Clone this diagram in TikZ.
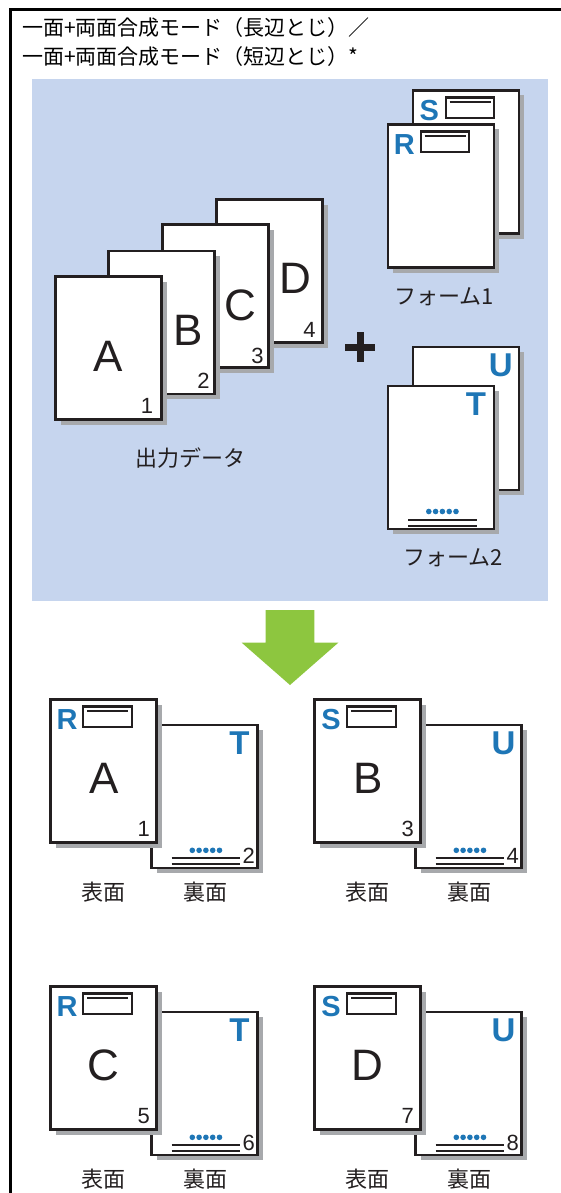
\documentclass[tikz,border=0pt]{standalone}
\usepackage{fontspec}
\setmainfont{Liberation Sans}
\newfontfamily\jpfont{Noto Sans CJK JP}
\usetikzlibrary{shadows}
\definecolor{panel}{HTML}{C6D5EE}
\definecolor{ink}{HTML}{231F20}
\definecolor{markblue}{HTML}{1E76B6}
\definecolor{shade}{HTML}{A7A9AC}
\definecolor{arrowgreen}{HTML}{8DC63F}
\tikzset{
 pagebox/.style={anchor=north west, draw=ink, line width=2.2pt, fill=white, minimum width=106pt, minimum height=143pt, inner sep=0pt, outer sep=0pt, drop shadow={shadow xshift=5pt, shadow yshift=-5pt, fill=shade, opacity=1}},
 bigletter/.style={inner sep=0pt, font=\fontsize{44}{44}\selectfont, text=ink},
 pagenum/.style={inner sep=0pt, font=\fontsize{22}{22}\selectfont, text=ink},
 markR/.style={inner sep=0pt, font=\bfseries\fontsize{29}{29}\selectfont, text=markblue},
 markT/.style={inner sep=0pt, font=\bfseries\fontsize{33}{33}\selectfont, text=markblue},
 hdrbox/.style={draw=ink, line width=2.2pt, minimum width=48.4pt, minimum height=20.5pt, inner sep=0pt, fill=white},
 rule/.style={draw=ink, line width=2pt},
 jplabel/.style={inner sep=0pt, font=\jpfont\fontsize{22}{22}\selectfont, text=ink},
 jptitle/.style={inner sep=0pt, anchor=west, font=\jpfont\fontsize{21}{21}\selectfont, text=black},
}
\newcommand{\mkpage}[3]{\node[pagebox] (#1) at (#2,#3) {};}
\newcommand{\pgletter}[4]{\node[bigletter] (#1-L) at ([shift={(#2,#3)}]#1.north west) {#4};}
\newcommand{\pgnum}[4]{\node[pagenum] (#1-N) at ([shift={(#2,#3)}]#1.north west) {#4};}
\newcommand{\pghead}[2]{%
 \node[markR] (#1-M) at ([shift={(16.5,20)}]#1.north west) {#2};
 \node[hdrbox] (#1-B) at ([shift={(57,17.3)}]#1.north west) {};
 \draw[draw=ink, line width=2.6pt] ([shift={(5,5.6)}]#1-B.north west) -- ([shift={(-4.5,5.6)}]#1-B.north east);}
\newcommand{\pgmark}[2]{\node[markT] (#1-M) at ([shift={(88,18.5)}]#1.north west) {#2};}
\newcommand{\pgfoot}[2]{%
 \pgmark{#1}{#2}
 \foreach \k in {0,...,4} \fill[markblue] ([shift={(40.8+6.8*\k,125.5)}]#1.north west) circle[radius=2.8pt];
 \coordinate (#1-a) at ([shift={(20,133.5)}]#1.north west);
 \coordinate (#1-b) at ([shift={(88.5,133.5)}]#1.north west);
 \draw[rule] (#1-a) -- (#1-b);
 \draw[rule] ([yshift=-6pt]#1-a) -- ([yshift=-6pt]#1-b);}
\begin{document}
\begin{tikzpicture}[x=1pt,y=-1pt]
\useasboundingbox (0,0) rectangle (561,1193);
% frame
\draw[line width=3pt, black] (10.5,1193) -- (10.5,9.7) -- (561,9.7);
% title
\node[jptitle] (t1) at (22,28) {一面+両面合成モード（長辺とじ）／};
\node[jptitle] (t2) at (22,57) {一面+両面合成モード（短辺とじ）*};
% panel
\fill[panel] (32,79) rectangle (548,601);
% output data stack
\mkpage{pD}{216.5}{199.5}
\pgletter{pD}{79}{79}{D}
\pgnum{pD}{93}{130}{4}
\mkpage{pC}{162.5}{224.5}
\pgletter{pC}{78}{81}{C}
\pgnum{pC}{95}{131}{3}
\mkpage{pB}{108.5}{251}
\pgletter{pB}{80}{79.5}{B}
\pgnum{pB}{95}{129.5}{2}
\mkpage{pA}{55.5}{276.5}
\pgletter{pA}{53}{80}{A}
\pgnum{pA}{91.5}{129}{1}
\node[jplabel] (outlbl) at (190,458) {出力データ};
% plus
\coordinate (plus) at (360,347);
\draw[ink, line width=7pt] ([xshift=-15pt]plus) -- ([xshift=15pt]plus);
\draw[ink, line width=7pt] ([yshift=15pt]plus) -- ([yshift=-15pt]plus);
% form 1
\mkpage{fS}{412.8}{90.5}
\pghead{fS}{S}
\mkpage{fR}{387.8}{124.5}
\pghead{fR}{R}
\node[jplabel] (f1lbl) at (444,297) {フォーム1};
% form 2
\mkpage{fU}{412.8}{347}
\pgmark{fU}{U}
\mkpage{fT}{388}{386}
\pgfoot{fT}{T}
\node[jplabel] (f2lbl) at (453,558) {フォーム2};
% green arrow
\fill[arrowgreen] (265.7,610) -- (314.3,610) -- (314.3,642.7) -- (338.3,642.7) -- (290,685) -- (241.7,642.7) -- (265.7,642.7) -- cycle;
% result pairs
\foreach \px/\py/\fl/\bl/\fn/\bn/\nm/\lt in {0/0/R/T/1/2/a/A, 264/0/S/U/3/4/b/B, 0/287/R/T/5/6/c/C, 264/287/S/U/7/8/d/D}{
  \mkpage{bk\nm}{151.5+\px}{724.8+\py}
  \pgfoot{bk\nm}{\bl}
  \pgnum{bk\nm}{97.3}{131}{\bn}
  \mkpage{fr\nm}{50.5+\px}{699.5+\py}
  \pghead{fr\nm}{\fl}
  \pgletter{fr\nm}{53.3}{79.3}{\lt}
  \pgnum{fr\nm}{93.3}{129.3}{\fn}
  \node[jplabel] (fl\nm) at (103.5+\px,891.7+\py) {表面};
  \node[jplabel] (bl\nm) at (205.8+\px,891.7+\py) {裏面};
}
\end{tikzpicture}
\end{document}
